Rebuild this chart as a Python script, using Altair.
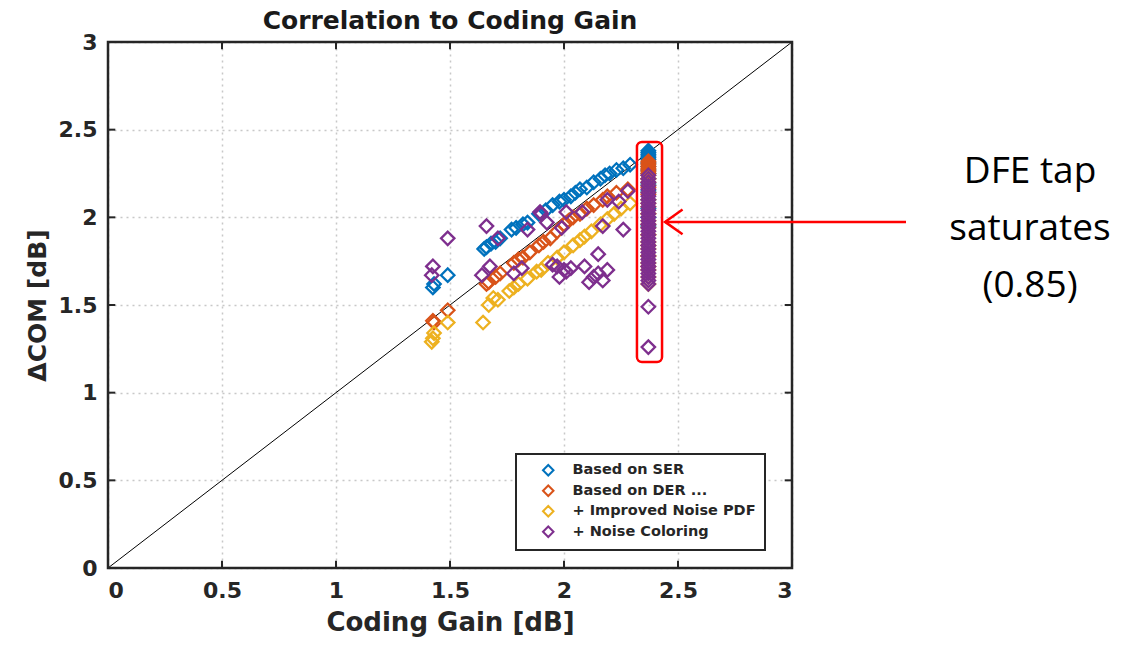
import altair as alt
import pandas as pd

# ---------------- data ----------------
SERIES = ["Based on SER", "Based on DER ...", "+ Improved Noise PDF", "+ Noise Coloring"]
COLORS = ["#0072BD", "#D95319", "#EDB120", "#7E2F8E"]
SAT_X = 2.37  # DFE tap saturation column

ser_x = [1.425, 1.43, 1.49, 1.65, 1.66, 1.68, 1.70, 1.72, 1.77, 1.79, 1.82, 1.84, 1.89, 1.92,
         1.95, 1.98, 2.00, 2.03, 2.05, 2.07, 2.10, 2.13, 2.16, 2.18, 2.20, 2.23, 2.26, 2.29]
ser_y = [1.60, 1.62, 1.67, 1.82, 1.83, 1.85, 1.86, 1.88, 1.93, 1.94, 1.96, 1.97, 2.02, 2.04,
         2.07, 2.09, 2.10, 2.12, 2.14, 2.16, 2.17, 2.20, 2.22, 2.24, 2.25, 2.27, 2.28, 2.30]
ser_col_y = [2.38, 2.37, 2.36, 2.35, 2.34, 2.33, 2.31, 2.29, 2.27, 2.25, 2.22, 2.19, 2.15,
             2.10, 2.05, 2.00, 1.95]

der_x = [1.425, 1.43, 1.49, 1.66, 1.67, 1.70, 1.72, 1.78, 1.80, 1.82, 1.85, 1.89, 1.91, 1.94,
         1.97, 2.00, 2.02, 2.04, 2.07, 2.10, 2.13, 2.17, 2.19, 2.23, 2.28]
der_y = [1.41, 1.40, 1.47, 1.62, 1.63, 1.66, 1.68, 1.74, 1.76, 1.77, 1.80, 1.84, 1.86, 1.88,
         1.92, 1.96, 1.98, 2.00, 2.02, 2.05, 2.07, 2.10, 2.12, 2.14, 2.16]
der_col_y = [2.32, 2.31, 2.30, 2.29, 2.28, 2.27, 2.26, 2.25, 2.24, 2.22, 2.20, 2.17, 2.13,
             2.08, 2.02, 1.96, 1.90, 1.84, 1.78, 1.72]

imp_x = [1.42, 1.425, 1.43, 1.49, 1.645, 1.67, 1.69, 1.71, 1.76, 1.78, 1.80, 1.84, 1.88, 1.90,
         1.93, 1.97, 2.00, 2.04, 2.07, 2.09, 2.12, 2.16, 2.19, 2.22, 2.25, 2.29]
imp_y = [1.29, 1.31, 1.34, 1.40, 1.40, 1.50, 1.54, 1.53, 1.58, 1.60, 1.62, 1.65, 1.69, 1.70,
         1.74, 1.77, 1.80, 1.84, 1.87, 1.89, 1.92, 1.96, 1.99, 2.02, 2.05, 2.08]
imp_col_y = [2.22, 2.18, 2.14, 2.10, 2.06, 2.02, 1.98, 1.94, 1.90, 1.86, 1.82, 1.78, 1.74,
             1.70, 1.66, 1.62]

col_x = [1.42, 1.425, 1.49, 1.64, 1.66, 1.675, 1.71, 1.78, 1.815, 1.84, 1.895, 1.90, 1.925,
         1.95, 1.97, 1.98, 1.99, 2.00, 2.01, 2.01, 2.03, 2.08, 2.09, 2.11, 2.13, 2.15, 2.15,
         2.17, 2.17, 2.19, 2.19, 2.24, 2.26, 2.28]
col_y = [1.67, 1.72, 1.88, 1.67, 1.95, 1.72, 1.88, 1.68, 1.71, 1.93, 2.03, 2.02, 1.97,
         1.73, 1.72, 1.66, 1.94, 1.70, 2.03, 1.69, 1.71, 2.03, 1.72, 1.63, 1.66, 1.68, 1.79,
         1.64, 1.95, 1.70, 2.10, 2.09, 1.93, 2.15]
col_col_y = [2.24, 2.22, 2.20, 2.18, 2.16, 2.14, 2.12, 2.10, 2.08, 2.06, 2.04, 2.02, 2.00,
             1.98, 1.96, 1.94, 1.92, 1.90, 1.88, 1.86, 1.84, 1.82, 1.80, 1.78, 1.76, 1.74,
             1.72, 1.70, 1.68, 1.66, 1.64, 1.62, 1.49, 1.26]

tick_vals = [0, 0.5, 1, 1.5, 2, 2.5, 3]

diag_x = [0, 3]
diag_y = [0, 3]

frame_x, frame_x2, frame_y, frame_y2 = 0, 3, 0, 3
box_x, box_x2, box_y, box_y2 = 2.32, 2.43, 1.175, 2.43
arrow_x = [3.50, 2.443]
arrow_y = [1.974, 1.974]
head_x = [2.52, 2.443, 2.52]
head_y = [2.045, 1.974, 1.903]

note_lines = ["DFE tap", "saturates", "(0.85)"]
note_x = 4.044
note_y = [2.196, 1.871, 1.546]

# ---------------- build tables ----------------
rows = []
for name, xs_, ys_, cys in [
    (SERIES[0], ser_x, ser_y, ser_col_y),
    (SERIES[1], der_x, der_y, der_col_y),
    (SERIES[2], imp_x, imp_y, imp_col_y),
    (SERIES[3], col_x, col_y, col_col_y),
]:
    for a, b in zip(xs_, ys_):
        rows.append({"x": a, "y": b, "series": name})
    for b in cys:
        rows.append({"x": SAT_X, "y": b, "series": name})
pts = pd.DataFrame(rows)
pts["order"] = range(len(pts))

xs = alt.Scale(domain=[0, 3], nice=False, zero=False)
ys = alt.Scale(domain=[0, 3], nice=False, zero=False)

FONT = "DejaVu Sans"
INK = "#262626"

points = alt.Chart(pts).mark_point(
    shape="diamond", filled=False, size=180, strokeWidth=2.3, opacity=1
).encode(
    x=alt.X("x:Q", scale=xs, title="Coding Gain [dB]",
            axis=alt.Axis(values=tick_vals, format="~g", ticks=False, domain=False,
                          grid=True, gridDash=[2, 4], gridColor="#c8c8c8", gridWidth=1.5,
                          labelFontSize=22, labelFont=FONT, labelFontWeight="bold",
                          labelColor=INK, labelPadding=12,
                          titleFontSize=26, titleFont=FONT, titleFontWeight="bold",
                          titleColor=INK, titlePadding=8)),
    y=alt.Y("y:Q", scale=ys, title="ΔCOM [dB]",
            axis=alt.Axis(values=tick_vals, format="~g", ticks=False, domain=False,
                          grid=True, gridDash=[2, 4], gridColor="#c8c8c8", gridWidth=1.5,
                          labelFontSize=22, labelFont=FONT, labelFontWeight="bold",
                          labelColor=INK, labelPadding=11,
                          titleFontSize=25, titleFont=FONT, titleFontWeight="bold",
                          titleColor=INK, titlePadding=8)),
    color=alt.Color("series:N",
                    scale=alt.Scale(domain=SERIES, range=COLORS),
                    legend=alt.Legend(title=None, orient="none", legendX=408, legendY=412,
                                      strokeColor=INK, fillColor="white", padding=9,
                                      labelFontSize=14.5, labelFont=FONT,
                                      labelFontWeight="bold", labelColor=INK, labelLimit=400,
                                      symbolSize=110, symbolStrokeWidth=2,
                                      symbolOffset=16, labelOffset=17, rowPadding=1.5)),
    order=alt.Order("order:Q"),
)

diag = alt.Chart(pd.DataFrame({"x": diag_x, "y": diag_y})).mark_line(
    color="black", strokeWidth=1
).encode(x=alt.X("x:Q", scale=xs), y=alt.Y("y:Q", scale=ys))

# inward ticks (box style)
tk = pd.DataFrame({"t": tick_vals})
tlx = 0.032
tly = 0.042
bottom_ticks = alt.Chart(tk).mark_rule(color=INK, strokeWidth=2).encode(
    x=alt.X("t:Q", scale=xs), y=alt.Y("a:Q", scale=ys), y2="b:Q"
).transform_calculate(a="0", b=str(tly))
top_ticks = alt.Chart(tk).mark_rule(color=INK, strokeWidth=2).encode(
    x=alt.X("t:Q", scale=xs), y=alt.Y("a:Q", scale=ys), y2="b:Q"
).transform_calculate(a=str(3 - tly), b="3")
left_ticks = alt.Chart(tk).mark_rule(color=INK, strokeWidth=2).encode(
    y=alt.Y("t:Q", scale=ys), x=alt.X("a:Q", scale=xs), x2="b:Q"
).transform_calculate(a="0", b=str(tlx))
right_ticks = alt.Chart(tk).mark_rule(color=INK, strokeWidth=2).encode(
    y=alt.Y("t:Q", scale=ys), x=alt.X("a:Q", scale=xs), x2="b:Q"
).transform_calculate(a=str(3 - tlx), b="3")

frame = alt.Chart(pd.DataFrame({"x": [frame_x], "x2": [frame_x2], "y": [frame_y], "y2": [frame_y2]})).mark_rect(
    fillOpacity=0, stroke=INK, strokeWidth=2.5
).encode(x=alt.X("x:Q", scale=xs), x2="x2:Q", y=alt.Y("y:Q", scale=ys), y2="y2:Q")

box = alt.Chart(pd.DataFrame({"x": [box_x], "x2": [box_x2], "y": [box_y], "y2": [box_y2]})).mark_rect(
    fillOpacity=0, stroke="#ff0000", strokeWidth=2.5, cornerRadius=5
).encode(x=alt.X("x:Q", scale=xs), x2="x2:Q", y=alt.Y("y:Q", scale=ys), y2="y2:Q")

arrow = alt.Chart(pd.DataFrame({"x": arrow_x, "y": arrow_y})).mark_line(
    color="#ff0000", strokeWidth=2.5
).encode(x=alt.X("x:Q", scale=xs), y=alt.Y("y:Q", scale=ys))

head = alt.Chart(pd.DataFrame({"x": head_x, "y": head_y, "o": [0, 1, 2]})).mark_line(
    color="#ff0000", strokeWidth=2.5
).encode(x=alt.X("x:Q", scale=xs), y=alt.Y("y:Q", scale=ys), order="o:Q")

note = alt.Chart(pd.DataFrame({"x": [note_x] * 3, "y": note_y, "t": note_lines})).mark_text(
    font="Open Sans", fontSize=37, color="#000000", align="center", baseline="alphabetic"
).encode(x=alt.X("x:Q", scale=xs), y=alt.Y("y:Q", scale=ys), text="t:N")

chart = alt.layer(
    diag, points, bottom_ticks, top_ticks, left_ticks, right_ticks, frame, box, arrow, head, note
).properties(
    width=684, height=526,
    title=alt.TitleParams("Correlation to Coding Gain", fontSize=25, font=FONT,
                          fontWeight="bold", color="#1a1a1a", anchor="middle", offset=-3),
    autosize=alt.AutoSizeParams(type="none"),
    padding={"left": 108, "top": 42, "right": 351, "bottom": 78},
).configure_view(
    stroke=None
).configure_legend(
    strokeWidth=2
)

chart.save("out.html", embed_options={"renderer": "svg", "actions": False})
